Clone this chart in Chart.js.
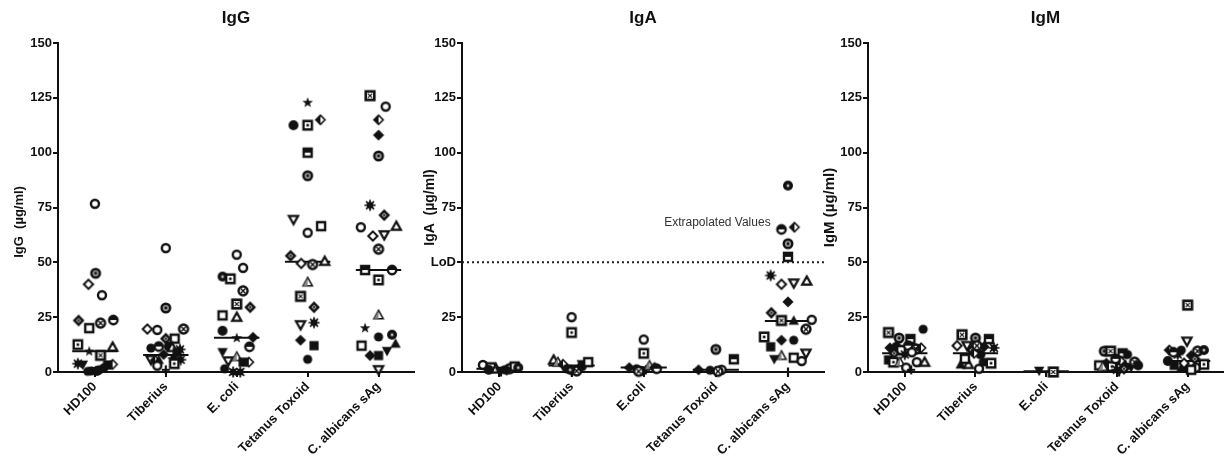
<!DOCTYPE html>
<html>
<head>
<meta charset="utf-8">
<script src="https://cdn.jsdelivr.net/npm/chart.js@4.4.0/dist/chart.umd.min.js"></script>
<style>
  body { margin: 0; background: #fff; }
  #wrap { position: relative; width: 1229px; height: 456px; overflow: hidden; }
  .panel { position: absolute; top: 0; height: 456px; }
</style>
</head>
<body>
<div id="wrap">
  <div class="panel" style="left:0;width:420px"><canvas id="igg"></canvas></div>
  <div class="panel" style="left:410px;width:420px"><canvas id="iga"></canvas></div>
  <div class="panel" style="left:815px;width:414px"><canvas id="igm"></canvas></div>
</div>
<script>
const catsIgG = ['HD100', 'Tiberius', 'E. coli', 'Tetanus Toxoid', 'C. albicans sAg'];
const catsIgAM = ['HD100', 'Tiberius', 'E.coli', 'Tetanus Toxoid', 'C. albicans sAg'];
const yTicks = [0, 25, 50, 75, 100, 125, 150];

// IgG (µg/ml), one list per antigen
const iggValues = [
  [76.7, 45, 40, 35, 23.5, 20, 22.3, 23.7, 12.5, 9.4, 11.4, 7.6, 3.8, 3.3, 3.2, 3.5, 2, 1, 0.5, 0, 0.3, 0.5],
  [56.5, 29.2, 19.6, 19.2, 19.6, 15.2, 15.2, 10.9, 11.6, 11.6, 11.2, 10.3, 5.6, 5.3, 5.6, 2.9, 6.3, 5.6, 3.8, 1, 8, 9],
  [53.5, 47.5, 43.5, 42.5, 37, 31, 29.5, 25.8, 25, 18.8, 15.5, 15.8, 11.5, 9, 5, 7, 4.5, 4.5, 1.5, 0, 0],
  [122.8, 112.5, 112.5, 115, 100, 89.5, 69.5, 63.5, 66.5, 53, 49.5, 49, 50.5, 41, 34.5, 29.5, 21.5, 22.5, 14.5, 12, 5.8],
  [126, 121, 115, 108, 98.5, 76, 71.5, 66.5, 66, 62, 62.5, 56, 46.5, 46.5, 42, 26, 20, 16, 17, 12, 13, 7.5, 7.5, 9.5, 1]
];
const iggMedians = [9.5, 7.8, 15.6, 50.3, 46.5];

// IgA (µg/ml)
const igaValues = [
  [3.2, 2, 1.5, 0.5, 0, 1, 1.5, 2.5, 2, 1, 0.8],
  [25, 18, 5.5, 4.5, 3.5, 1.5, 0, 0.5, 2.5, 3.5, 4.5, 1],
  [14.8, 8.5, 2, 1.5, 0.5, 1, 3, 2, 1.5, 0.3],
  [10.3, 5.8, 1, 0.8, 0.5, 1, 0.3],
  [85, 65, 66, 58.5, 52.5, 44, 40, 40.5, 41.5, 32, 27, 23.5, 23.5, 23.8, 19.5, 16, 14.5, 14.5, 11.5, 7.5, 5.8, 6.5, 5, 8.5, 0]
];
const igaMedians = [1.5, 3, 2, 1, 23.2];
const lodValue = 50;
const extrapLabel = 'Extrapolated Values';
const extrapAt = { x: 3.76, y: 68 };

// IgM (µg/ml)
const igmValues = [
  [18, 15.5, 15, 19.5, 11, 11.5, 10, 12, 10.5, 8, 9, 8.5, 5.5, 4.5, 4.5, 2, 4.5, 4.5, 1, 11],
  [17, 15.5, 15, 12, 12, 11.5, 11, 10, 8, 3.5, 3.5, 1.5, 4.5, 4, 8.5, 12, 6],
  [0.5, 0],
  [9.5, 9.5, 8.5, 8, 3, 4, 2.5, 1, 0, 5, 3.5, 2, 4.5, 3, 2.5, 6, 1.5],
  [30.5, 14, 10, 10, 9.5, 10, 8, 7.5, 5, 3, 2, 1.5, 2, 3.5, 6, 4, 1, 9]
];
const igmMedians = [8.5, 8.6, 0.3, 3.5, 5];

// horizontal spread of the dots inside each column (in column units)
const iggJitter = [
  [0, 0.01, -0.09, 0.1, -0.23, -0.08, 0.08, 0.26, -0.24, -0.08, 0.25, 0.08, -0.24, -0.17, 0.18, 0.25, 0.13, 0.06, -0.05, 0, -0.1, 0.03],
  [0, 0, -0.26, -0.12, 0.25, 0.125, 0, -0.21, -0.1, 0.04, 0.09, 0.2, -0.21, -0.15, -0.1, -0.12, 0.11, 0.21, 0.12, 0, -0.03, 0.16],
  [0, 0.09, -0.2, -0.09, 0.09, 0, 0.19, -0.2, 0, -0.2, 0, 0.23, 0.18, -0.2, -0.12, 0, 0.09, 0.17, -0.17, -0.05, 0.05],
  [0, -0.2, 0, 0.18, 0, 0, -0.2, 0, 0.19, -0.24, -0.09, 0.07, 0.24, 0, -0.1, 0.09, -0.1, 0.09, -0.1, 0.09, 0],
  [-0.12, 0.1, 0, 0, 0, -0.12, 0.08, 0.25, -0.25, -0.08, 0.08, 0, -0.19, 0.19, 0, 0, -0.19, 0, 0.19, -0.24, 0.24, -0.12, 0, 0.12, 0]
];
const igaJitter = [
  [-0.23, -0.12, -0.05, 0, 0.02, 0.07, 0.14, 0.21, 0.26, -0.15, 0.1],
  [0, 0, -0.25, -0.19, -0.12, -0.07, 0, 0.07, 0.14, 0.14, 0.23, -0.02],
  [0, 0, -0.2, -0.1, -0.03, 0.03, 0.08, 0.15, 0.18, -0.07],
  [0, 0.25, -0.24, -0.08, 0, 0.08, 0.03],
  [0, -0.09, 0.09, 0, 0, -0.24, -0.09, 0.08, 0.26, 0, -0.23, -0.09, 0.08, 0.33, 0.25, -0.33, -0.09, 0.08, -0.24, -0.09, -0.19, 0.08, 0.19, 0.25, 0]
];
const igmJitter = [
  [-0.23, -0.08, 0.08, 0.26, -0.21, -0.12, -0.05, 0.05, 0.16, 0, 0.1, -0.15, -0.23, -0.16, -0.07, 0.02, 0.17, 0.28, 0.09, 0.23],
  [-0.19, 0, 0.19, -0.26, -0.12, 0.12, 0.26, -0.05, 0.07, -0.21, -0.1, 0.05, 0.11, 0.22, -0.02, 0.02, -0.15],
  [-0.1, 0.1],
  [-0.18, -0.09, 0.08, 0.15, -0.25, -0.15, -0.07, 0, 0.03, 0.05, 0.12, 0.2, 0.25, 0.3, -0.2, -0.02, 0.1],
  [0, -0.01, -0.26, -0.09, 0.14, 0.23, -0.14, 0.05, -0.28, -0.19, -0.09, 0, 0.12, 0.23, 0.1, -0.05, 0.05, -0.2]
];

// one symbol code per dot (see makeMarker)
const iggMarks = ['oedogschq*txaVSkOOOpOH', 'oedocsgOhHtavkToaaqpDS', 'ooEqcxgstH*DhVvnSkOaa', '*HqkmevosgdctnxgvaDSO', 'xokDeagtodvcmhqn*OEsTDSVv'];
const igaMarks = ['oqtVpOcsEHD', 'oqtnkOpcHVsE', 'oqDOHpnkhc', 'emDOpoc', 'EhkemadvtDgxTocqDOSnVsovp'];
const igmMarks = ['xemODHshcaogSqnootpk', 'xemdvDagHTtoOqkcs', 'Vx', 'exmOsDqapkTVcHnhg', 'xvkOcEaDHSTOoqgdsh'];

const ink = '#111';
const family = '"Liberation Sans", Arial, sans-serif';

function makeMarker(code) {
  const size = 14;
  const c = document.createElement('canvas');
  c.width = c.height = size;
  const g = c.getContext('2d');
  g.translate(size / 2, size / 2);
  g.lineWidth = 2.4;
  g.strokeStyle = ink;
  g.fillStyle = '#fff';
  const circle = r => { g.beginPath(); g.arc(0, 0, r, 0, 2 * Math.PI); };
  const square = h => { g.beginPath(); g.rect(-h, -h, 2 * h, 2 * h); };
  const diamond = h => { g.beginPath(); g.moveTo(0, -h); g.lineTo(h, 0); g.lineTo(0, h); g.lineTo(-h, 0); g.closePath(); };
  const up = h => { g.beginPath(); g.moveTo(0, -h); g.lineTo(h, h * 0.8); g.lineTo(-h, h * 0.8); g.closePath(); };
  const down = h => { g.beginPath(); g.moveTo(0, h); g.lineTo(h, -h * 0.8); g.lineTo(-h, -h * 0.8); g.closePath(); };
  const open = () => { g.fill(); g.stroke(); };
  const solid = () => { g.fillStyle = ink; g.fill(); };
  const cross = (r, w) => { g.lineWidth = w; g.beginPath(); g.moveTo(-r, -r); g.lineTo(r, r); g.moveTo(r, -r); g.lineTo(-r, r); g.stroke(); };
  switch (code) {
    case 'o': circle(4); open(); break;
    case 'O': circle(4.6); solid(); break;
    case 'H': circle(5); solid(); break;
    case 's': square(4); open(); break;
    case 'S': square(4.6); solid(); break;
    case 'x': square(5.6); solid(); g.fillStyle = '#fff'; g.fillRect(-3, -3, 6, 6); cross(2.2, 1.2); break;
    case 'q': square(4.2); open(); g.fillStyle = ink; g.fillRect(-1.3, -1.3, 2.6, 2.6); break;
    case 'm': square(4); open(); g.fillStyle = ink; g.fillRect(-4, -4, 8, 4); break;
    case 'd': g.lineWidth = 2; diamond(4.6); open(); break;
    case 'D': diamond(5.6); solid(); break;
    case 'g': diamond(5.9); solid(); g.fillStyle = '#aaa'; diamond(2.6); g.fill(); g.fillStyle = ink; circle(1); g.fill(); break;
    case 'k': g.lineWidth = 1.6; diamond(4.6); open(); g.fillStyle = ink;
      g.beginPath(); g.moveTo(0, -4.6); g.lineTo(-4.6, 0); g.lineTo(0, 4.6); g.closePath(); g.fill(); break;
    case 't': g.lineWidth = 2.2; up(4.6); open(); break;
    case 'T': up(5.2); solid(); break;
    case 'v': g.lineWidth = 2.2; down(4.6); open(); break;
    case 'V': down(5.2); solid(); break;
    case 'n': g.lineWidth = 1.6; up(4.6); open(); g.fillStyle = '#888';
      g.beginPath(); g.moveTo(0, -4.6); g.lineTo(-4.6, 3.7); g.lineTo(0, 3.7); g.closePath(); g.fill(); break;
    case '*':
      g.beginPath();
      for (let i = 0; i < 10; i++) {
        const r = i % 2 ? 2.3 : 5.6, a = -Math.PI / 2 + i * Math.PI / 5;
        g.lineTo(r * Math.cos(a), r * Math.sin(a));
      }
      g.closePath(); solid(); break;
    case 'a':
      g.lineWidth = 1.7; g.beginPath();
      for (let i = 0; i < 8; i++) {
        const a = i * Math.PI / 4;
        g.moveTo(0, 0); g.lineTo(5.6 * Math.cos(a), 5.6 * Math.sin(a));
      }
      g.stroke(); circle(3.4); solid(); break;
    case 'c': circle(4.5); open(); cross(2.2, 1.4); break;
    case 'e': circle(4.3); g.fillStyle = '#999'; g.fill(); g.stroke(); g.fillStyle = ink; circle(1.4); g.fill(); break;
    case 'E': circle(5); solid(); g.fillStyle = '#bbb'; circle(1.5); g.fill(); break;
    case 'h': circle(4.2); open(); g.fillStyle = ink; g.beginPath(); g.arc(0, 0, 4.2, Math.PI, 2 * Math.PI); g.fill(); break;
    case 'p': g.lineWidth = 2.2; g.beginPath(); g.moveTo(-4, 0); g.lineTo(4, 0); g.moveTo(0, -4.5); g.lineTo(0, 4.5); g.stroke(); break;
  }
  return c;
}

const markers = {};
'oOHsSxqmdDgktTvVn*aceEhp'.split('').forEach(k => { markers[k] = makeMarker(k); });

const extrapPlugin = {
  id: 'extrap',
  afterDatasetsDraw(chart) {
    const { ctx, scales: { x, y } } = chart;
    ctx.save();
    ctx.font = '12px ' + family;
    ctx.fillStyle = '#333';
    ctx.textAlign = 'right';
    ctx.textBaseline = 'middle';
    ctx.fillText(extrapLabel, x.getPixelForValue(extrapAt.x), y.getPixelForValue(extrapAt.y));
    ctx.restore();
  }
};

function makePanel(id, title, yTitle, cats, values, jitter, marks, medians, o) {
  const datasets = [];
  values.forEach((vals, i) => {
    datasets.push({
      data: vals.map((v, j) => ({ x: i + jitter[i][j], y: v })),
      pointStyle: marks[i].split('').map(k => markers[k]),
      pointRadius: 5,
      clip: false,
      order: 1
    });
  });
  medians.forEach((m, i) => {
    datasets.push({
      data: [{ x: i - 0.32, y: m }, { x: i + 0.32, y: m }],
      showLine: true, borderColor: ink, borderWidth: 2, pointRadius: 0, order: 2
    });
  });
  if (o.lod) {
    datasets.push({
      data: [{ x: -0.52, y: lodValue }, { x: 4.5, y: lodValue }],
      showLine: true, borderColor: '#222', borderWidth: 2, borderDash: [2, 3], pointRadius: 0, order: 3
    });
  }
  const axisGrid = { drawOnChartArea: false, color: ink, lineWidth: 2, tickLength: 5 };
  return new Chart(document.getElementById(id), {
    type: 'scatter',
    data: { datasets },
    options: {
      responsive: true,
      maintainAspectRatio: false,
      animation: false,
      layout: { padding: { left: o.padLeft, right: o.padRight, top: 0, bottom: 0 } },
      plugins: {
        legend: { display: false },
        tooltip: { enabled: false },
        title: {
          display: true, text: title, color: ink, fullSize: false,
          font: { family, size: 17, weight: 'bold' },
          padding: { top: 8, bottom: 14.6 }
        }
      },
      scales: {
        x: {
          type: 'linear', min: -0.52, max: 4.5,
          border: { color: ink, width: 2 },
          grid: axisGrid,
          afterBuildTicks: s => { s.ticks = cats.map((c, i) => ({ value: i })); },
          afterFit: s => { s.height = 84; },
          ticks: {
            autoSkip: false, maxRotation: 45, minRotation: 45, padding: 2, color: ink,
            font: { family, size: 13, weight: 'bold' },
            callback: v => cats[v]
          }
        },
        y: {
          min: 0, max: 150,
          border: { color: ink, width: 2 },
          grid: axisGrid,
          afterBuildTicks: s => { s.ticks = yTicks.map(v => ({ value: v })); },
          afterFit: s => { s.width = o.yWidth; },
          ticks: {
            padding: 1, color: ink,
            font: { family, size: 13, weight: 'bold' },
            callback: v => (o.lod && v === lodValue) ? 'LoD' : v
          },
          title: {
            display: true, text: yTitle, color: ink,
            font: { family, size: o.yTitleSize, weight: 'bold' },
            padding: { top: o.yTitlePad, bottom: 0 }
          }
        }
      }
    },
    plugins: o.lod ? [extrapPlugin] : []
  });
}

// trailing no-break spaces push the IgG axis title a little lower, as in the original
makePanel('igg', 'IgG', 'IgG  (µg/ml)' + '\u00a0'.repeat(8), catsIgG, iggValues, iggJitter, iggMarks, iggMedians,
  { padLeft: 8, padRight: 5, yWidth: 50, yTitleSize: 13, yTitlePad: 4 });
makePanel('iga', 'IgA', 'IgA  (µg/ml)', catsIgAM, igaValues, igaJitter, igaMarks, igaMedians,
  { padLeft: 6, padRight: 5, yWidth: 46, yTitleSize: 14, yTitlePad: 5.6, lod: true });
makePanel('igm', 'IgM', 'IgM (µg/ml)', catsIgAM, igmValues, igmJitter, igmMarks, igmMedians,
  { padLeft: 0, padRight: 0, yWidth: 53, yTitleSize: 15, yTitlePad: 6 });
</script>
</body>
</html>
